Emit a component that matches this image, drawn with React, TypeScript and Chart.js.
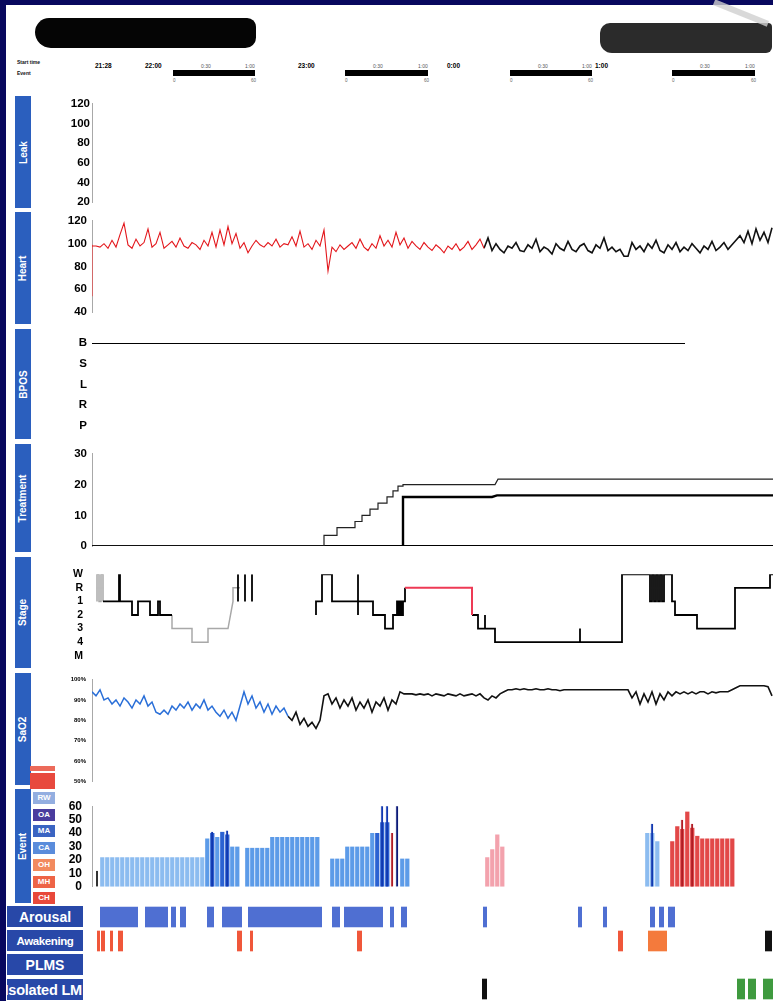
import React, { useEffect, useRef } from 'react';
import { Chart, registerables } from 'chart.js';

Chart.register(...registerables);

const FONT = '"Liberation Sans", Arial, Helvetica, sans-serif';
const NAVY = '#08085e';
const PANEL_BLUE = '#2b5fbe';
const ROW_BLUE = '#2848a8';
const X_MAX = 681; // time axis (one unit per pixel column of the plot)

// ---------- Heart ----------
const HEART_STEP = 4;
const HEART_RED_START = 0;
const HEART_RED = [
  98, 98, 97, 100, 96, 103, 97, 108, 118, 99,
  96, 104, 98, 101, 113, 97, 100, 110, 96, 99,
  102, 97, 105, 98, 96, 101, 99, 95, 103, 98,
  110, 97, 112, 99, 115, 100, 109, 96, 101, 92,
  98, 103, 99, 97, 101, 98, 104, 97, 100, 99,
  106, 98, 111, 97, 100, 95, 103, 98, 112, 76,
  97, 93, 99, 95, 98, 101, 96, 104, 97, 94,
  100, 96, 107, 98, 103, 97, 110, 99, 105, 96,
  102, 98, 95, 101, 97, 94, 99, 96, 92, 98,
  95, 100, 94, 97, 102, 95, 99, 104, 96,
];
const HEART_BLACK_START = 392;
const HEART_BLACK = [
  96, 105, 94, 100, 95, 92, 98, 96, 101, 94,
  93, 99, 96, 104, 93, 97, 95, 91, 100, 96,
  94, 102, 95, 93, 98, 100, 94, 92, 99, 96,
  105, 94, 97, 93, 95, 89, 89, 101, 95, 98,
  93, 100, 96, 103, 94, 92, 99, 95, 101, 93,
  97, 94, 100, 96, 92, 98, 95, 102, 94, 97,
  101, 95, 99, 103, 107, 101, 111, 100, 113, 103,
  110, 101, 114,
];
const HEART_LEAD: [number, number][] = [[0, 99], [0, 54]];

// ---------- Body position ----------
const BPOS_LABELS = ['B', 'S', 'L', 'R', 'P'];
const BPOS_LINE: [number, number][] = [[0, 0], [593, 0]];

// ---------- Treatment ----------
const TREAT_THIN: [number, number][] = [
  [0, 0], [232, 0], [232, 3.5], [245, 3.5], [245, 6], [263, 6], [263, 8], [270, 8], [270, 10],
  [278, 10], [278, 12], [286, 12], [286, 14], [295, 14], [295, 16], [301, 16], [301, 18],
  [306, 18], [306, 19.5], [311, 19.5], [311, 20], [403, 20], [406, 21.8], [681, 21.8],
];
const TREAT_THICK: [number, number][] = [[0, 0], [311, 0], [311, 16], [400, 16], [405, 16.5], [681, 16.5]];
const TREAT_BASE: [number, number][] = [[0, 0], [681, 0]];

// ---------- Sleep stage (0=W 1=R 2=1 3=2 4=3 5=4 6=M) ----------
const STAGE_LABELS = ['W', 'R', '1', '2', '3', '4', 'M'];
type Pt = [number, number] | null;
const STAGE_GRAY: Pt[] = [
  [5, 2], [5, 0], [7, 0], [7, 2], [9, 2], [9, 0], [11, 0], [11, 2], null,
  [80, 3], [80, 4], [100, 4], [100, 5], [116, 5], [116, 4], [136, 4], [141, 2], [141, 1], [148, 1],
];
const STAGE_BLACK: Pt[] = [
  [11, 2], [27, 2], [27, 0], [28, 0], [28, 2], [40, 2], [40, 3], [46, 3], [46, 2], [58, 2], [58, 3],
  [66, 3], [66, 2], [68, 2], [68, 3], [80, 3], null,
  [146, 0], [146, 2], null, [153, 0], [153, 2], null, [160, 0], [160, 2], null,
  [224, 3], [224, 2], [230, 2], [230, 0], [240, 0], [240, 2], [266, 2], [266, 0], [266, 3], [266, 2],
  [281, 2], [281, 3], [293, 3], [293, 4], [301, 4], [301, 3], [305, 3], [305, 2], [306, 2], [306, 3],
  [307, 3], [307, 2], [308, 2], [308, 3], [309, 3], [309, 2], [310, 2], [310, 3], [311, 3], [311, 2],
  [313, 2], [313, 1], null,
  [380, 3], [386, 3], [386, 4], [393, 4], [393, 3], [393, 4], [403, 4], [403, 5], [488, 5], [488, 4],
  [488, 5], [530, 5], [530, 0], [558, 0], [558, 2], [560, 2], [560, 0], [562, 0], [562, 2], [564, 2],
  [564, 0], [566, 0], [566, 2], [568, 2], [568, 0], [570, 0], [570, 2], [572, 2], [572, 0], [580, 0],
  [580, 2], [583, 2], [583, 3], [605, 3], [605, 4], [643, 4], [643, 1], [678, 1], [678, 0], [681, 0],
];
const STAGE_REM: Pt[] = [[313, 1], [380, 1], [380, 3]];

// ---------- SaO2 ----------
const SAO2_STEP = 4;
const SAO2_BLUE_START = 0;
const SAO2_BLUE = [
  94, 92, 95, 90, 91, 88, 90, 87, 91, 89,
  86, 90, 88, 92, 87, 89, 84, 83, 85, 83,
  87, 85, 88, 86, 89, 85, 88, 86, 90, 85,
  87, 84, 82, 85, 81, 84, 80, 87, 94, 88,
  92, 86, 89, 84, 88, 83, 87, 84, 86, 82,
];
const SAO2_BLACK_START = 196;
const SAO2_BLACK = [
  82, 80, 84, 78, 81, 77, 79, 76, 80, 92,
  93, 88, 91, 86, 90, 87, 91, 85, 89, 86,
  90, 84, 89, 87, 91, 85, 90, 88, 94, 93,
  93, 93, 92.5, 93, 92.5, 93, 92, 93, 92.5, 92,
  93, 92.5, 92, 93, 92, 92.5, 93, 92, 93, 91,
  90, 92, 91, 93, 94, 95, 95, 95.5, 95, 95.5,
  95, 95, 95.5, 95, 95, 95.5, 95, 95, 94.5, 95,
  95, 95, 95, 95, 95, 95, 95, 95, 95, 95,
  95, 95, 95, 95, 95, 95, 91, 94, 88, 93,
  89, 94, 88, 93, 90, 94, 92, 94, 93, 94,
  93, 94, 93, 94, 94, 93, 94, 93.5, 94, 94,
  94, 95, 96, 97, 97, 97, 97, 97, 97, 97,
  96.5, 92,
];

// ---------- Respiratory events (column centre, height) ----------
const EVENT_LEGEND = ['RW', 'OA', 'MA', 'CA', 'OH', 'MH', 'CH'];
const EVENT_LEGEND_COLORS = ['#93aee0', '#4a3c9e', '#3a64c2', '#5a8cdb', '#f28a5e', '#ee6446', '#e8483a'];
const EVENT_LIGHT: [number, number][] = [
  [10, 22], [15, 22], [20, 22], [25, 22], [30, 22], [35, 22], [40, 22], [45, 22], [50, 22], [55, 22],
  [60, 22], [65, 22], [70, 22], [75, 22], [80, 22], [85, 22], [90, 22], [95, 22], [100, 22], [105, 22],
  [110, 22], [555, 40], [560, 40], [565, 34],
];
const EVENT_MED: [number, number][] = [
  [115, 36], [125, 37], [140, 30], [145, 30], [155, 29], [160, 29], [165, 29], [170, 29], [175, 29],
  [180, 37], [185, 37], [190, 37], [195, 37], [200, 37], [205, 37], [210, 37], [215, 37], [220, 37],
  [225, 37], [240, 21], [245, 21], [250, 21], [255, 30], [260, 30], [265, 30], [270, 30], [275, 30],
  [280, 40], [310, 21], [315, 21],
];
const EVENT_DEEP: [number, number][] = [[120, 40], [130, 41], [135, 39], [285, 40], [290, 48], [295, 48]];
const EVENT_SPIKE: [number, number][] = [[120, 41], [135, 42], [290, 61], [295, 61], [560, 47]];
const EVENT_NAVY: [number, number][] = [[305, 61]];
const EVENT_PINK: [number, number][] = [[395, 22], [400, 28], [405, 39], [410, 30]];
const EVENT_RED: [number, number][] = [
  [580, 34], [585, 45], [590, 43], [595, 56], [600, 44], [605, 38], [610, 36], [615, 36], [620, 36],
  [625, 36], [630, 36], [635, 36], [640, 36],
];
const EVENT_DARK_RED: [number, number][] = [[300, 40], [590, 50], [600, 47]];
const EVENT_BLACK: [number, number][] = [[5, 12]];

// ---------- Event rows (start, end) ----------
const ROW_LABELS = ['Arousal', 'Awakening', 'PLMS', 'Isolated LM'];
const AROUSAL: [number, number][] = [
  [8, 46], [53, 76], [79, 84], [88, 94], [115, 122], [130, 150], [156, 230], [240, 248], [252, 291],
  [298, 302], [309, 315], [391, 395], [486, 490], [511, 515], [558, 563], [567, 572], [576, 583],
];
const AWAKENING: [number, number][] = [[5, 8], [9, 13], [18, 21], [26, 31], [145, 150], [158, 161], [265, 270], [526, 531]];
const AWAKENING_BLOCK: [number, number][] = [[556, 575]];
const AWAKENING_BLACK: [number, number][] = [[673, 680]];
const PLMS: [number, number][] = [];
const ISOLATED_LM_BLACK: [number, number][] = [[390, 395]];
const ISOLATED_LM_GREEN: [number, number][] = [[645, 653], [656, 664], [671, 681]];

// ---------- Header ----------
const HEAD_TIMES = [
  { x: 95, t: '21:28' }, { x: 145, t: '22:00' }, { x: 298, t: '23:00' }, { x: 447, t: '0:00' }, { x: 595, t: '1:00' },
];
const HEAD_BARS: [number, number][] = [[173, 255], [345, 428], [510, 592], [672, 755]];

// ---------- helpers ----------
const toXY = (pts: Pt[]) => {
  let lastX = 0;
  return pts.map((p) => {
    if (!p) return { x: lastX, y: null };
    lastX = p[0];
    return { x: p[0], y: p[1] };
  });
};
const series = (start: number, step: number, vals: number[]) => vals.map((v, i) => ({ x: start + i * step, y: v }));
const cols = (pts: [number, number][]) => pts.map((p) => ({ x: p[0], y: p[1] }));

const line = (data: any[], color: string, width: number) => ({
  data, borderColor: color, borderWidth: width, pointRadius: 0, fill: false, spanGaps: false, tension: 0,
});

const xScale = () => ({ type: 'linear', min: 0, max: X_MAX, display: false, offset: false });

function yScale(o: {
  min: number; max: number; step: number; reverse?: boolean; size?: number; pad?: number;
  labels?: string[]; suffix?: string; border?: boolean;
}) {
  return {
    type: 'linear', min: o.min, max: o.max, reverse: !!o.reverse,
    afterFit: (s: any) => { s.width = 84; },
    grid: { display: false, drawTicks: false },
    border: { display: o.border !== false, color: '#a8a8a8', dash: [1, 2], width: 1 },
    ticks: {
      stepSize: o.step, autoSkip: false, padding: o.pad ?? 3, color: '#000',
      font: { family: FONT, size: o.size ?? 11.5, weight: 'bold' },
      callback: (v: any) => (o.labels ? (o.labels[v] ?? '') : o.suffix ? `${v}${o.suffix}` : String(v)),
    },
  };
}

function baseOptions(scales: any, padding: any = { top: 8, bottom: 8, left: 0, right: 0 }, extra: any = {}) {
  return {
    responsive: false, maintainAspectRatio: false, animation: false, devicePixelRatio: 1, events: [],
    layout: { padding },
    plugins: { legend: { display: false }, tooltip: { enabled: false }, title: { display: false } },
    scales, ...extra,
  };
}

function ChartCanvas(props: { left: number; top: number; width: number; height: number; build: () => any }) {
  const ref = useRef<HTMLCanvasElement | null>(null);
  useEffect(() => {
    if (!ref.current) return;
    const chart = new Chart(ref.current, props.build());
    return () => chart.destroy();
  }, []);
  return (
    <canvas
      ref={ref}
      width={props.width}
      height={props.height}
      style={{ position: 'absolute', left: props.left, top: props.top, width: props.width, height: props.height }}
    />
  );
}

function Panel(props: { vTop: number; vBottom: number; build: () => any }) {
  return <ChartCanvas left={8} top={props.vTop - 8} width={765} height={props.vBottom - props.vTop + 16} build={props.build} />;
}

const bar = (data: any[], color: string, pct = 1, border = 'rgba(255,255,255,0.3)') => ({
  data, backgroundColor: color, borderColor: border, borderWidth: { left: 1, right: 0, top: 0, bottom: 0 },
  borderSkipped: false, grouped: false, barPercentage: pct, categoryPercentage: 1,
});

const rowBar = (ranges: [number, number][], row: string, color: string) => ({
  data: ranges.map((r) => ({ x: r, y: row })), backgroundColor: color, borderWidth: 0,
  grouped: false, barPercentage: 0.86, categoryPercentage: 1,
});

// ---------- panel builders ----------
const buildLeak = () => ({
  type: 'line', data: { datasets: [] },
  options: baseOptions({ x: xScale(), y: yScale({ min: 20, max: 120, step: 20, pad: 2 }) }),
});
const buildHeart = () => ({
  type: 'line',
  data: {
    datasets: [
      line(series(HEART_RED_START, HEART_STEP, HEART_RED), '#e3161b', 1.1),
      line(series(HEART_BLACK_START, HEART_STEP, HEART_BLACK), '#111', 1.6),
      line(toXY(HEART_LEAD), '#d86060', 1),
    ],
  },
  options: baseOptions({ x: xScale(), y: yScale({ min: 40, max: 120, step: 20, pad: 5 }) }),
});
const buildBpos = () => ({
  type: 'line',
  data: { datasets: [line(toXY(BPOS_LINE), '#000', 2)] },
  options: baseOptions({ x: xScale(), y: yScale({ min: 0, max: 4, step: 1, reverse: true, labels: BPOS_LABELS, pad: 5, border: false }) }),
});
const buildTreatment = () => ({
  type: 'line',
  data: {
    datasets: [
      line(toXY(TREAT_THIN), '#222', 1.2),
      line(toXY(TREAT_THICK), '#000', 2.4),
      line(toXY(TREAT_BASE), '#000', 2.4),
    ],
  },
  options: baseOptions({ x: xScale(), y: yScale({ min: 0, max: 30, step: 10, pad: 5 }) }),
});
const buildStage = () => ({
  type: 'line',
  data: {
    datasets: [
      line(toXY(STAGE_REM), '#ee3a55', 2),
      line(toXY(STAGE_BLACK), '#000', 1.8),
      line(toXY(STAGE_GRAY), '#a8a8a8', 1.5),
    ],
  },
  options: baseOptions({ x: xScale(), y: yScale({ min: 0, max: 6, step: 1, reverse: true, labels: STAGE_LABELS, size: 10.5, pad: 9, border: false }) }),
});
const buildSao2 = () => ({
  type: 'line',
  data: {
    datasets: [
      line(series(SAO2_BLUE_START, SAO2_STEP, SAO2_BLUE), '#2a6fd8', 1.5),
      line(series(SAO2_BLACK_START, SAO2_STEP, SAO2_BLACK), '#111', 1.6),
    ],
  },
  options: baseOptions({ x: xScale(), y: yScale({ min: 50, max: 100, step: 10, suffix: '%', size: 6, pad: 6 }) }),
});
const buildEvent = () => ({
  type: 'bar',
  data: {
    datasets: [
      bar(cols(EVENT_BLACK), '#333', 0.4, '#333'),
      bar(cols(EVENT_NAVY), '#0c1a78', 0.5, '#0c1a78'),
      bar(cols(EVENT_DARK_RED), '#b01c24', 0.5, '#b01c24'),
      bar(cols(EVENT_SPIKE), '#1238b0', 0.5, '#1238b0'),
      bar(cols(EVENT_DEEP), '#2b62d2'),
      bar(cols(EVENT_PINK), '#f3a2ad'),
      bar(cols(EVENT_RED), '#e24848'),
      bar(cols(EVENT_MED), '#5c9be8'),
      bar(cols(EVENT_LIGHT), '#8cbcf0'),
    ],
  },
  options: baseOptions({ x: xScale(), y: yScale({ min: 0, max: 60, step: 10, size: 12, pad: 10 }) }),
});
const buildRows = () => ({
  type: 'bar',
  data: {
    labels: ROW_LABELS,
    datasets: [
      rowBar(AWAKENING_BLACK, 'Awakening', '#111'),
      rowBar(AWAKENING_BLOCK, 'Awakening', '#f47a3c'),
      rowBar(AWAKENING, 'Awakening', '#f0573a'),
      rowBar(AROUSAL, 'Arousal', '#4f6fd2'),
      rowBar(PLMS, 'PLMS', '#4f6fd2'),
      rowBar(ISOLATED_LM_BLACK, 'Isolated LM', '#111'),
      rowBar(ISOLATED_LM_GREEN, 'Isolated LM', '#3f9a3f'),
    ],
  },
  options: baseOptions(
    {
      x: { type: 'linear', min: 0, max: X_MAX, display: false },
      y: { type: 'category', labels: ROW_LABELS, display: false, offset: true },
    },
    { top: 0, bottom: 0, left: 0, right: 0 },
    { indexAxis: 'y' },
  ),
});

// ---------- decorations ----------
const SIDE_BOXES = [
  { t: 'Leak', top: 96, h: 112 },
  { t: 'Heart', top: 212, h: 112 },
  { t: 'BPOS', top: 329, h: 110 },
  { t: 'Treatment', top: 444, h: 108 },
  { t: 'Stage', top: 557, h: 111 },
  { t: 'SaO2', top: 673, h: 112 },
  { t: 'Event', top: 789, h: 114 },
];
const ROW_BOXES = [
  { t: 'Arousal', top: 906, size: 14, spacing: 0 },
  { t: 'Awakening', top: 930, size: 11.5, spacing: -0.4 },
  { t: 'PLMS', top: 954, size: 14, spacing: 0 },
  { t: 'Isolated LM', top: 979, size: 14.5, spacing: -0.2 },
];

export default function App() {
  return (
    <div style={{ position: 'relative', width: 773, height: 1001, background: NAVY, overflow: 'hidden', fontFamily: FONT }}>
      <style>{'html,body{margin:0;padding:0;background:' + NAVY + ';}'}</style>
      <div style={{ position: 'absolute', left: 6, top: 5, width: 767, height: 996, background: '#fff' }} />

      {/* header blobs */}
      <div style={{ position: 'absolute', left: 35, top: 18, width: 221, height: 30, background: '#050505', borderRadius: '16px 10px 12px 18px' }} />
      <div style={{ position: 'absolute', left: 600, top: 23, width: 172, height: 30, background: '#2b2b2b', borderRadius: '10px 4px 6px 12px' }} />
      <div style={{ position: 'absolute', left: 712, top: 10, width: 58, height: 6, background: '#cfcfcf', transform: 'rotate(22deg)', opacity: 0.8 }} />

      {/* header time row */}
      <div style={{ position: 'absolute', left: 17, top: 59, fontSize: 5, fontWeight: 700, color: '#111', lineHeight: '6px' }}>Start time</div>
      <div style={{ position: 'absolute', left: 17, top: 70, fontSize: 5, fontWeight: 700, color: '#111', lineHeight: '6px' }}>Event</div>
      {HEAD_TIMES.map((h) => (
        <div key={h.t} style={{ position: 'absolute', left: h.x, top: 62, fontSize: 6.5, fontWeight: 900, color: '#000', lineHeight: '7px' }}>{h.t}</div>
      ))}
      {HEAD_BARS.map((b, i) => (
        <React.Fragment key={i}>
          <div style={{ position: 'absolute', left: b[0], top: 70, width: b[1] - b[0], height: 6, background: '#000' }} />
          <div style={{ position: 'absolute', left: b[0] + 28, top: 63, fontSize: 5, color: '#555', lineHeight: '6px' }}>0:30</div>
          <div style={{ position: 'absolute', left: b[1] - 10, top: 63, fontSize: 5, color: '#555', lineHeight: '6px' }}>1:00</div>
          <div style={{ position: 'absolute', left: b[0], top: 78, fontSize: 4.5, color: '#666', lineHeight: '5px' }}>0</div>
          <div style={{ position: 'absolute', left: b[1] - 4, top: 78, fontSize: 4.5, color: '#666', lineHeight: '5px' }}>60</div>
        </React.Fragment>
      ))}

      {/* side panel labels */}
      {SIDE_BOXES.map((b) => (
        <div key={b.t} style={{ position: 'absolute', left: 15, top: b.top, width: 16, height: b.h, background: PANEL_BLUE, display: 'flex', alignItems: 'center', justifyContent: 'center' }}>
          <span style={{ transform: 'rotate(-90deg)', whiteSpace: 'nowrap', color: '#fff', fontWeight: 700, fontSize: 10 }}>{b.t}</span>
        </div>
      ))}

      {/* SaO2 red markers */}
      <div style={{ position: 'absolute', left: 30, top: 766, width: 25, height: 5, background: '#ec6a5a' }} />
      <div style={{ position: 'absolute', left: 30, top: 773, width: 25, height: 16, background: '#e8493e' }} />

      {/* event legend */}
      {EVENT_LEGEND.map((t, i) => (
        <div key={t} style={{ position: 'absolute', left: 33, top: 792 + i * 16.7, width: 22, height: 12, background: EVENT_LEGEND_COLORS[i], color: '#fff', fontSize: 8, fontWeight: 700, lineHeight: '12px', textAlign: 'center' }}>{t}</div>
      ))}

      {/* row labels */}
      {ROW_BOXES.map((b) => (
        <div key={b.t} style={{ position: 'absolute', left: 7, top: b.top, width: 76, height: 21, background: ROW_BLUE, overflow: 'hidden', display: 'flex', alignItems: 'center', justifyContent: b.t === 'Isolated LM' ? 'flex-end' : 'center' }}>
          <span style={{ whiteSpace: 'nowrap', color: '#fff', fontWeight: 700, fontSize: b.size, letterSpacing: b.spacing, paddingRight: b.t === 'Isolated LM' ? 1 : 0 }}>{b.t}</span>
        </div>
      ))}

      {/* charts */}
      <Panel vTop={103} vBottom={203} build={buildLeak} />
      <Panel vTop={217} vBottom={316} build={buildHeart} />
      <Panel vTop={339} vBottom={430} build={buildBpos} />
      <Panel vTop={450} vBottom={550} build={buildTreatment} />
      <Panel vTop={567} vBottom={663} build={buildStage} />
      <Panel vTop={678} vBottom={783} build={buildSao2} />
      <Panel vTop={797} vBottom={896} build={buildEvent} />
      <ChartCanvas left={92} top={905} width={681} height={96} build={buildRows} />
    </div>
  );
}
